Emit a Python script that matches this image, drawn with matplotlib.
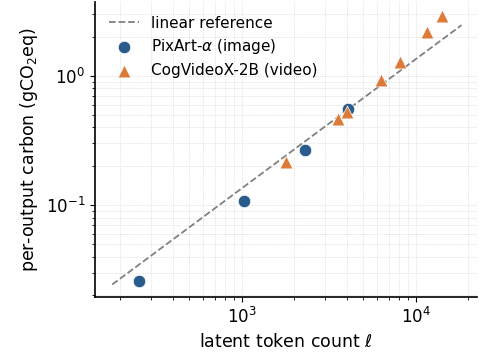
import numpy as np
import matplotlib.pyplot as plt

# datos
pix_tokens = [256, 1024, 2304, 4096]
pix_carbon = [0.026, 0.107, 0.268, 0.556]
cog_tokens = [1792, 3570, 4040, 6280, 8070, 11600, 14100]
cog_carbon = [0.214, 0.462, 0.529, 0.926, 1.29, 2.18, 2.92]
ref_tokens = [180, 18300]
ref_slope = 1.35e-4

fig = plt.figure(figsize=(4.79, 3.58), dpi=100)
ax = fig.add_axes([0.198, 0.170, 0.798, 0.825])

ref_x = np.array(ref_tokens)
ax.plot(ref_x, ref_slope * ref_x, '--', color='gray', lw=1.3, label='linear reference', zorder=2)
ax.scatter(pix_tokens, pix_carbon, s=80, marker='o', color='#2b5b8c',
           edgecolor='white', linewidth=0.5, label=r'PixArt-$\alpha$ (image)', zorder=3)
ax.scatter(cog_tokens, cog_carbon, s=85, marker='^', color='#dd7a38',
           edgecolor='white', linewidth=0.5, label='CogVideoX-2B (video)', zorder=4)

ax.set_xscale('log')
ax.set_yscale('log')
ax.set_xlim(143, 22500)
ax.set_ylim(0.0194, 3.75)
ax.grid(True, which='both', ls=':', lw=0.5, color='#cccccc')
ax.spines['top'].set_visible(False)
ax.spines['right'].set_visible(False)
ax.spines['left'].set_linewidth(1.2)
ax.spines['bottom'].set_linewidth(1.2)
ax.tick_params(labelsize=12)
ax.set_xlabel(r'latent token count $\ell$', fontsize=12.5)
ax.set_ylabel(r'per-output carbon (gCO$_2$eq)', fontsize=12.5)
ax.legend(loc='upper left', frameon=False, fontsize=11, labelspacing=0.45)

plt.savefig('out.png')
